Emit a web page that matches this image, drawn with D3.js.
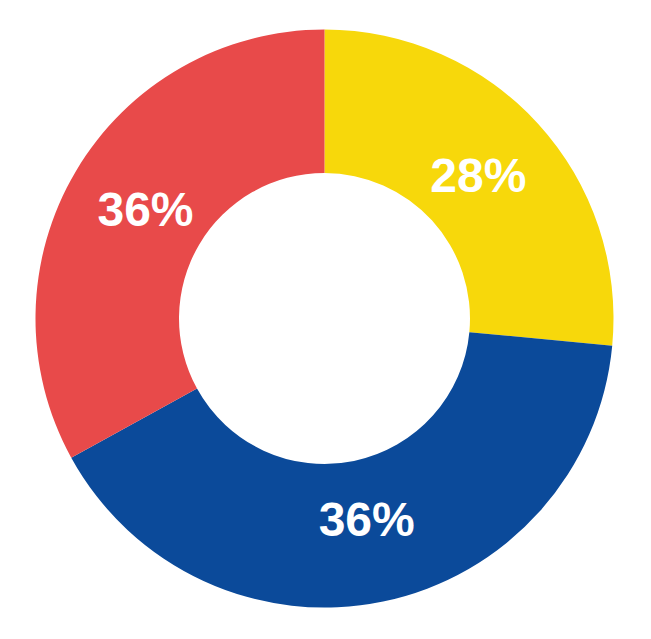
<!DOCTYPE html>
<html>
<head>
<meta charset="utf-8">
<script src="https://cdn.jsdelivr.net/npm/d3@7"></script>
<style>
  html, body { margin: 0; padding: 0; background: #ffffff; }
  svg { display: block; }
</style>
</head>
<body>
<svg id="chart" width="651" height="639"></svg>
<script>
// Data: slice shares as drawn, and the printed labels
const categories = ["A", "B", "C"];
const shares = [26.5, 40.5, 33];
const labels = ["28%", "36%", "36%"];
const colors = ["#F7D80B", "#0B4A9A", "#E84A4A"];

const width = 651, height = 639;
const cx = 324.5, cy = 318.5;
const outerR = 289, innerR = 145.5, labelR = 208;

const svg = d3.select("#chart");
const g = svg.append("g").attr("transform", `translate(${cx},${cy})`);

const pie = d3.pie().sort(null).value(d => d.v);
const data = pie(categories.map((c, i) => ({ c, v: shares[i], label: labels[i], color: colors[i] })));

const arc = d3.arc().innerRadius(innerR).outerRadius(outerR);
const labelArc = d3.arc().innerRadius(labelR).outerRadius(labelR);

g.selectAll("path.slice")
  .data(data)
  .join("path")
  .attr("class", "slice")
  .attr("d", arc)
  .attr("fill", d => d.data.color);

g.selectAll("text.lbl")
  .data(data)
  .join("text")
  .attr("class", "lbl")
  .attr("transform", d => `translate(${labelArc.centroid(d)})`)
  .attr("text-anchor", "middle")
  .attr("dy", "0.28em")
  .attr("fill", "#ffffff")
  .style("font-family", "'Liberation Sans', Arial, Helvetica, sans-serif")
  .style("font-weight", "700")
  .style("font-size", "48px")
  .text(d => d.data.label);
</script>
</body>
</html>
